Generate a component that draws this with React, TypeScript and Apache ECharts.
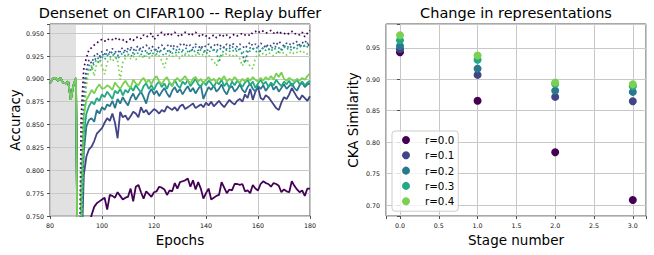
import React, { useEffect, useRef } from "react";
import * as echarts from "echarts";

const FONT = "DejaVu Sans";

const rLabels = ["r=0.0", "r=0.1", "r=0.2", "r=0.3", "r=0.4"];
const colors = ["#440154", "#414487", "#2a788e", "#22a884", "#7ad151"];

// Accuracy during warm-up (epochs 80..90), shared by all runs
const warmupStart = 80;
const warmupAcc = [0.895, 0.9, 0.901, 0.898, 0.901, 0.896, 0.895, 0.897, 0.877, 0.893, 0.901];

// Accuracy after the task switch, epochs 91..180
const curveStart = 91;
const solidR00 = [
  0.55, 0.62, 0.68, 0.72, 0.74, 0.751, 0.76, 0.764, 0.766, 0.768,
  0.77, 0.757, 0.773, 0.772, 0.77, 0.776, 0.772, 0.768, 0.77, 0.771,
  0.78, 0.766, 0.782, 0.784, 0.776, 0.769, 0.777, 0.774, 0.771, 0.776,
  0.777, 0.782, 0.781, 0.779, 0.773, 0.778, 0.777, 0.786, 0.78, 0.787,
  0.788, 0.789, 0.791, 0.782, 0.789, 0.779, 0.787, 0.78, 0.769, 0.775,
  0.78, 0.768, 0.77, 0.772, 0.773, 0.787, 0.781, 0.775, 0.779, 0.778,
  0.785, 0.785, 0.784, 0.785, 0.777, 0.778, 0.775, 0.784, 0.78, 0.778,
  0.785, 0.788, 0.786, 0.785, 0.782, 0.786, 0.785, 0.783, 0.776, 0.779,
  0.777, 0.776, 0.788, 0.783, 0.779, 0.776, 0.778, 0.772, 0.78, 0.78,
];
const solidR01 = [
  0.55, 0.7, 0.795, 0.815, 0.823, 0.826, 0.832, 0.84, 0.843, 0.846,
  0.852, 0.857, 0.854, 0.862, 0.852, 0.835, 0.864, 0.858, 0.86, 0.855,
  0.859, 0.864, 0.862, 0.858, 0.869, 0.863, 0.866, 0.861, 0.864, 0.867,
  0.865, 0.862, 0.866, 0.864, 0.87, 0.868, 0.866, 0.869, 0.865, 0.87,
  0.872, 0.867, 0.869, 0.871, 0.873, 0.868, 0.87, 0.872, 0.869, 0.874,
  0.871, 0.875, 0.87, 0.873, 0.876, 0.872, 0.869, 0.873, 0.877, 0.874,
  0.872, 0.876, 0.878, 0.875, 0.883, 0.879, 0.889, 0.877, 0.886, 0.891,
  0.879, 0.877, 0.882, 0.88, 0.876, 0.872, 0.868, 0.866, 0.874, 0.88,
  0.878, 0.883, 0.89, 0.885, 0.88, 0.877, 0.882, 0.879, 0.876, 0.881,
];
const solidR02 = [
  0.55, 0.72, 0.82, 0.848, 0.855, 0.857, 0.853, 0.866, 0.862, 0.869,
  0.866, 0.872, 0.87, 0.876, 0.868, 0.878, 0.873, 0.88, 0.875, 0.871,
  0.879, 0.884, 0.877, 0.882, 0.886, 0.88, 0.873, 0.884, 0.889, 0.883,
  0.887, 0.881, 0.886, 0.89, 0.884, 0.88, 0.887, 0.891, 0.885, 0.889,
  0.883, 0.888, 0.892, 0.886, 0.89, 0.884, 0.889, 0.893, 0.878, 0.885,
  0.891, 0.888, 0.893, 0.886, 0.889, 0.894, 0.887, 0.883, 0.89, 0.892,
  0.886, 0.889, 0.894, 0.888, 0.885, 0.891, 0.895, 0.889, 0.886, 0.892,
  0.889, 0.893, 0.887, 0.891, 0.895, 0.888, 0.892, 0.886, 0.89, 0.894,
  0.889, 0.892, 0.895, 0.89, 0.887, 0.893, 0.896, 0.891, 0.894, 0.895,
];
const solidR03 = [
  0.55, 0.74, 0.84, 0.862, 0.87, 0.875, 0.872, 0.879, 0.876, 0.883,
  0.88, 0.886, 0.882, 0.878, 0.887, 0.884, 0.889, 0.882, 0.888, 0.885,
  0.891, 0.887, 0.893, 0.889, 0.885, 0.892, 0.895, 0.889, 0.893, 0.888,
  0.894, 0.897, 0.891, 0.895, 0.889, 0.896, 0.892, 0.899, 0.893, 0.89,
  0.897, 0.894, 0.899, 0.892, 0.896, 0.9, 0.894, 0.891, 0.897, 0.893,
  0.898, 0.895, 0.891, 0.897, 0.894, 0.899, 0.892, 0.896, 0.89, 0.897,
  0.893, 0.898, 0.895, 0.891, 0.896, 0.899, 0.893, 0.897, 0.89, 0.895,
  0.899, 0.894, 0.897, 0.891, 0.896, 0.893, 0.899, 0.895, 0.892, 0.897,
  0.894, 0.898, 0.892, 0.896, 0.899, 0.894, 0.897, 0.893, 0.896, 0.898,
];
const solidR04 = [
  0.55, 0.78, 0.86, 0.877, 0.882, 0.888, 0.884, 0.89, 0.894, 0.889,
  0.89, 0.893, 0.891, 0.888, 0.896, 0.892, 0.889, 0.894, 0.898, 0.893,
  0.89, 0.899, 0.895, 0.893, 0.898, 0.901, 0.896, 0.899, 0.894, 0.9,
  0.903, 0.897, 0.894, 0.899, 0.902, 0.896, 0.893, 0.898, 0.901, 0.897,
  0.9, 0.903, 0.898, 0.895, 0.9, 0.902, 0.897, 0.9, 0.895, 0.899,
  0.902, 0.898, 0.9, 0.896, 0.901, 0.899, 0.903, 0.897, 0.9, 0.898,
  0.902, 0.899, 0.896, 0.9, 0.897, 0.901, 0.898, 0.902, 0.899, 0.897,
  0.901, 0.898, 0.902, 0.899, 0.903, 0.899, 0.906, 0.902, 0.907, 0.9,
  0.898, 0.901, 0.899, 0.897, 0.9, 0.898, 0.901, 0.899, 0.903, 0.906,
];
const dottedR00 = [
  0.6, 0.86, 0.912, 0.923, 0.932, 0.934, 0.937, 0.939, 0.942, 0.943,
  0.941, 0.944, 0.942, 0.943, 0.945, 0.942, 0.944, 0.943, 0.94, 0.941,
  0.944, 0.942, 0.945, 0.946, 0.944, 0.948, 0.946, 0.947, 0.95, 0.943,
  0.946, 0.949, 0.951, 0.948, 0.95, 0.947, 0.949, 0.951, 0.948, 0.946,
  0.949, 0.951, 0.95, 0.947, 0.949, 0.951, 0.948, 0.946, 0.949, 0.947,
  0.944, 0.946, 0.948, 0.945, 0.947, 0.949, 0.946, 0.948, 0.945, 0.947,
  0.949, 0.947, 0.948, 0.95, 0.948, 0.949, 0.947, 0.951, 0.952, 0.95,
  0.953, 0.952, 0.95, 0.951, 0.953, 0.95, 0.952, 0.949, 0.951, 0.95,
  0.948, 0.95, 0.952, 0.949, 0.95, 0.948, 0.951, 0.946, 0.95, 0.953,
];
const dottedR01 = [
  0.58, 0.8, 0.89, 0.91, 0.921, 0.917, 0.925, 0.928, 0.924, 0.93,
  0.927, 0.932, 0.929, 0.933, 0.93, 0.928, 0.932, 0.934, 0.93, 0.933,
  0.935, 0.931, 0.934, 0.936, 0.932, 0.935, 0.937, 0.933, 0.936, 0.934,
  0.931, 0.935, 0.937, 0.933, 0.936, 0.938, 0.934, 0.937, 0.935, 0.938,
  0.936, 0.939, 0.935, 0.937, 0.934, 0.938, 0.936, 0.933, 0.937, 0.935,
  0.938, 0.934, 0.936, 0.939, 0.935, 0.937, 0.934, 0.938, 0.936, 0.939,
  0.937, 0.935, 0.938, 0.936, 0.933, 0.937, 0.94, 0.936, 0.938, 0.935,
  0.939, 0.937, 0.934, 0.938, 0.936, 0.939, 0.937, 0.941, 0.938, 0.936,
  0.939, 0.937, 0.94, 0.938, 0.941, 0.937, 0.939, 0.942, 0.938, 0.936,
];
const dottedR02 = [
  0.57, 0.76, 0.87, 0.903, 0.915, 0.912, 0.92, 0.924, 0.921, 0.927,
  0.925, 0.929, 0.926, 0.93, 0.927, 0.925, 0.93, 0.928, 0.931, 0.929,
  0.932, 0.928, 0.931, 0.933, 0.929, 0.932, 0.93, 0.927, 0.931, 0.933,
  0.929, 0.932, 0.93, 0.933, 0.931, 0.928, 0.932, 0.934, 0.93, 0.933,
  0.931, 0.934, 0.932, 0.929, 0.933, 0.935, 0.931, 0.934, 0.932, 0.929,
  0.933, 0.935, 0.932, 0.93, 0.934, 0.932, 0.935, 0.931, 0.933, 0.936,
  0.932, 0.934, 0.931, 0.927, 0.917, 0.929, 0.934, 0.932, 0.935, 0.933,
  0.93, 0.934, 0.936, 0.932, 0.935, 0.933, 0.936, 0.934, 0.931, 0.935,
  0.937, 0.933, 0.936, 0.934, 0.937, 0.935, 0.938, 0.936, 0.939, 0.937,
];
const dottedR03 = [
  0.56, 0.74, 0.86, 0.898, 0.912, 0.908, 0.918, 0.921, 0.917, 0.924,
  0.921, 0.926, 0.923, 0.927, 0.924, 0.921, 0.926, 0.928, 0.925, 0.927,
  0.924, 0.928, 0.926, 0.929, 0.927, 0.924, 0.928, 0.93, 0.926, 0.929,
  0.927, 0.93, 0.928, 0.925, 0.929, 0.931, 0.928, 0.93, 0.927, 0.931,
  0.929, 0.926, 0.93, 0.932, 0.929, 0.931, 0.928, 0.932, 0.93, 0.927,
  0.931, 0.929, 0.932, 0.93, 0.918, 0.928, 0.931, 0.933, 0.93, 0.932,
  0.929, 0.931, 0.933, 0.93, 0.928, 0.932, 0.93, 0.933, 0.931, 0.928,
  0.932, 0.934, 0.931, 0.933, 0.93, 0.934, 0.932, 0.929, 0.933, 0.935,
  0.932, 0.934, 0.931, 0.935, 0.933, 0.936, 0.934, 0.937, 0.935, 0.933,
];
const dottedR04 = [
  0.55, 0.72, 0.85, 0.893, 0.91, 0.915, 0.903, 0.918, 0.921, 0.913,
  0.905, 0.918, 0.922, 0.919, 0.924, 0.92, 0.899, 0.918, 0.923, 0.926,
  0.922, 0.925, 0.921, 0.924, 0.926, 0.923, 0.925, 0.922, 0.926, 0.924,
  0.927, 0.925, 0.92, 0.912, 0.923, 0.926, 0.924, 0.927, 0.925, 0.922,
  0.926, 0.928, 0.925, 0.927, 0.924, 0.926, 0.928, 0.925, 0.927, 0.924,
  0.926, 0.922, 0.919, 0.914, 0.923, 0.927, 0.925, 0.928, 0.926, 0.924,
  0.927, 0.925, 0.922, 0.914, 0.924, 0.92, 0.913, 0.911, 0.923, 0.927,
  0.925, 0.928, 0.926, 0.929, 0.927, 0.925, 0.928, 0.93, 0.927, 0.929,
  0.926, 0.928, 0.93, 0.927, 0.929, 0.931, 0.928, 0.93, 0.927, 0.929,
];

const solidCurves = [solidR00, solidR01, solidR02, solidR03, solidR04];
const dottedCurves = [dottedR00, dottedR01, dottedR02, dottedR03, dottedR04];

// CKA similarity per stage
const stages = [0, 1, 2, 3];
const ckaR00 = [0.943, 0.866, 0.784, 0.708];
const ckaR01 = [0.948, 0.907, 0.872, 0.865];
const ckaR02 = [0.953, 0.917, 0.882, 0.88];
const ckaR03 = [0.962, 0.931, 0.893, 0.889];
const ckaR04 = [0.97, 0.938, 0.895, 0.892];
const ckaCurves = [ckaR00, ckaR01, ckaR02, ckaR03, ckaR04];

const isStep = (v: number, step: number) => {
  const k = v / step;
  return Math.abs(k - Math.round(k)) < 1e-6;
};
const clean = (v: number) => (Math.abs(v) < 1e-9 ? 0 : v);

const tickLabel = { fontSize: 6.3, color: "#111", fontFamily: FONT };
const splitLine = { show: true, lineStyle: { color: "#c8c8c8", width: 1 } };
const axisTick = { show: true, length: 3, lineStyle: { color: "#505050" } };
const nameStyle = { fontSize: 13.5, color: "#000", fontFamily: FONT };

export default function App() {
  const ref = useRef<HTMLDivElement>(null);
  useEffect(() => {
    if (!ref.current) return;
    const chart = echarts.init(ref.current, null, { renderer: "svg" });

    const series: any[] = [];
    solidCurves.forEach((curve, idx) => {
      const data = [
        ...warmupAcc.map((v, i) => [warmupStart + i, v]),
        ...curve.map((v, i) => [curveStart + i, v]),
      ];
      const s: any = {
        name: "test " + rLabels[idx],
        type: "line",
        xAxisIndex: 0,
        yAxisIndex: 0,
        data,
        showSymbol: false,
        symbol: "none",
        lineStyle: { color: colors[idx], width: 1.8 },
        itemStyle: { color: colors[idx] },
        clip: true,
        z: 3,
      };
      if (idx === 0) {
        s.markArea = {
          silent: true,
          itemStyle: { color: "rgba(200,200,200,0.55)" },
          data: [[{ xAxis: 80 }, { xAxis: 90 }]],
        };
      }
      series.push(s);
    });
    dottedCurves.forEach((curve, idx) => {
      series.push({
        name: "train " + rLabels[idx],
        type: "line",
        xAxisIndex: 0,
        yAxisIndex: 0,
        data: curve.map((v, i) => [curveStart + i, v]),
        showSymbol: false,
        symbol: "none",
        lineStyle: { color: colors[idx], width: 1.7, type: [1.7, 2.8] },
        itemStyle: { color: colors[idx] },
        clip: true,
        z: 3,
      });
    });
    ckaCurves.forEach((vals, idx) => {
      series.push({
        name: rLabels[idx],
        type: "scatter",
        xAxisIndex: 1,
        yAxisIndex: 1,
        data: vals.map((v, i) => [stages[i], v]),
        symbol: "circle",
        symbolSize: 8,
        itemStyle: { color: colors[idx], opacity: 1 },
        z: 3,
      });
    });

    chart.setOption({
      animation: false,
      backgroundColor: "#ffffff",
      graphic: [
        {
          type: "text",
          x: 180,
          y: 13,
          style: {
            text: "Densenet on CIFAR100 -- Replay buffer",
            fontSize: 14.5,
            fontFamily: FONT,
            fill: "#000",
            align: "center",
            verticalAlign: "middle",
          },
        },
        {
          type: "text",
          x: 516,
          y: 13,
          style: {
            text: "Change in representations",
            fontSize: 14.5,
            fontFamily: FONT,
            fill: "#000",
            align: "center",
            verticalAlign: "middle",
          },
        },
      ],
      grid: [
        { left: 50, top: 24, width: 260, height: 192, show: true, borderColor: "#505050", borderWidth: 1, backgroundColor: "transparent" },
        { left: 386, top: 24, width: 260, height: 192, show: true, borderColor: "#505050", borderWidth: 1, backgroundColor: "transparent" },
      ],
      xAxis: [
        {
          type: "value",
          gridIndex: 0,
          min: 80,
          max: 180,
          interval: 20,
          name: "Epochs",
          nameLocation: "middle",
          nameGap: 14,
          nameTextStyle: nameStyle,
          axisLine: { show: false },
          axisTick,
          axisLabel: { ...tickLabel, margin: 6 },
          splitLine,
        },
        {
          type: "value",
          gridIndex: 1,
          min: -0.18,
          max: 3.17,
          name: "Stage number",
          nameLocation: "middle",
          nameGap: 14,
          nameTextStyle: nameStyle,
          axisLine: { show: false },
          axisTick,
          axisLabel: {
            ...tickLabel,
            margin: 6,
            formatter: (v: number) => (isStep(v, 0.5) ? clean(v).toFixed(1) : ""),
          },
          splitLine,
        },
      ],
      yAxis: [
        {
          type: "value",
          gridIndex: 0,
          min: 0.75,
          max: 0.96,
          interval: 0.025,
          name: "Accuracy",
          nameLocation: "middle",
          nameGap: 28,
          nameTextStyle: nameStyle,
          axisLine: { show: false },
          axisTick,
          axisLabel: {
            ...tickLabel,
            margin: 6,
            formatter: (v: number) => (isStep(v, 0.025) ? v.toFixed(3) : ""),
          },
          splitLine,
        },
        {
          type: "value",
          gridIndex: 1,
          min: 0.6825,
          max: 0.988,
          name: "CKA Similarity",
          nameLocation: "middle",
          nameGap: 26,
          nameTextStyle: nameStyle,
          axisLine: { show: false },
          axisTick,
          axisLabel: {
            ...tickLabel,
            margin: 6,
            formatter: (v: number) => (isStep(v, 0.05) ? v.toFixed(2) : ""),
          },
          splitLine,
        },
      ],
      legend: {
        data: rLabels,
        orient: "vertical",
        left: 392,
        top: 131,
        icon: "circle",
        itemWidth: 8,
        itemHeight: 8,
        itemGap: 3.3,
        padding: [3, 4, 4, 10],
        backgroundColor: "rgba(255,255,255,0.8)",
        borderColor: "#cccccc",
        borderWidth: 1,
        borderRadius: 3,
        selectedMode: false,
        textStyle: { fontSize: 10.3, lineHeight: 12, color: "#000", fontFamily: FONT, padding: [0, 0, 0, 10] },
      },
      series,
    });
    return () => chart.dispose();
  }, []);
  return (
    <div
      ref={ref}
      style={{ position: "fixed", left: 0, top: 0, width: 654, height: 255, background: "#fff" }}
    />
  );
}
